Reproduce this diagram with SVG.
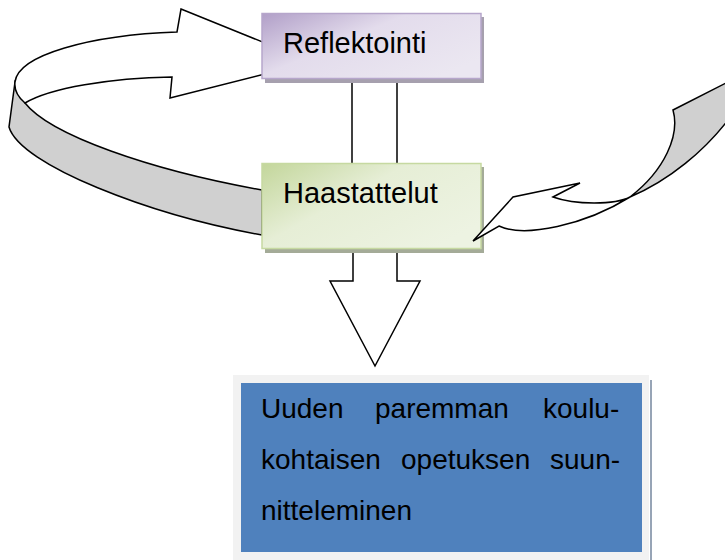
<svg xmlns="http://www.w3.org/2000/svg" width="725" height="560" viewBox="0 0 725 560">
<defs>
<linearGradient id="gPurple" x1="0" y1="0" x2="1" y2="0.7">
<stop offset="0" stop-color="#b19fc8"/>
<stop offset="0.45" stop-color="#e3dcec"/>
<stop offset="1" stop-color="#ebe7f1"/>
</linearGradient>
<linearGradient id="gGreen" x1="0" y1="0" x2="1" y2="0.7">
<stop offset="0" stop-color="#c3d69b"/>
<stop offset="0.45" stop-color="#e6eed6"/>
<stop offset="1" stop-color="#edf3e2"/>
</linearGradient>
<style>
.arr{stroke:#000;stroke-width:1.5;stroke-linejoin:miter}
.w{fill:#fff}
.g{fill:#d0d0d0}
.lbl{font-family:"Liberation Sans",Arial,sans-serif;font-size:29px;fill:#000}
.txt{font-family:"Liberation Sans",Arial,sans-serif;font-size:28px;fill:#000}
</style>
</defs>
<g id="connectors">
<!-- left circular ribbon arrow -->
<path class="arr g" d="M15,82 L9,127 C20,165 150,215 262,235 L262,190 C150,170 50,135 25,103 Z"/>
<path class="arr w" d="M181,9 L312,62 L170,98 L172,77 C110,78 50,88 25,103 C18,97 14,90 15,82 C18,55 90,35 177,32 Z"/>
<!-- lines between boxes -->
<line class="arr" x1="352" y1="78" x2="352" y2="164"/>
<line class="arr" x1="397" y1="78" x2="397" y2="164"/>
<!-- down block arrow -->
<path class="arr w" d="M353,248 L353,281 L330,281 L375,366 L420,281 L397,281 L397,248"/>
</g>
<g id="node-reflektointi">
<rect x="265" y="17" width="219" height="66" fill="#a6a0ae"/>
<rect x="262" y="13.5" width="219" height="65" fill="url(#gPurple)" stroke="#b6a6cb" stroke-width="1.5"/>
<text class="lbl" x="283" y="53">Reflektointi</text>
</g>
<g id="node-haastattelut">
<rect x="265" y="167" width="219" height="86" fill="#a4ab98"/>
<rect x="262" y="163.5" width="219" height="85" fill="url(#gGreen)" stroke="#c6d9a1" stroke-width="1.5"/>
<text class="lbl" x="283" y="203">Haastattelut</text>
</g>
<g id="connector-right">
<path class="arr g" d="M630,197 C665,170 680,135 673,110 L728,82 L728,120 C705,150 670,180 630,197 Z"/>
<path class="arr w" d="M630,197 C615,205 575,205 553,197 L580,183 L513,197 L473,241 L499,226 C525,238 585,225 630,197 Z"/>
</g>
<g id="node-suunnitteleminen">
<rect x="233" y="375" width="416" height="190" fill="#f2f2f2"/>
<line x1="651" y1="380" x2="651" y2="560" stroke="#97a4b6" stroke-width="2"/>
<rect x="241" y="383" width="401" height="169" fill="#4f81bd"/>
<text class="txt" y="418"><tspan x="261">Uuden</tspan><tspan x="375">paremman</tspan><tspan x="543">koulu-</tspan></text>
<text class="txt" y="469"><tspan x="261">kohtaisen</tspan><tspan x="401">opetuksen</tspan><tspan x="550">suun-</tspan></text>
<text class="txt" x="261" y="520">nitteleminen</text>
</g>
</svg>
